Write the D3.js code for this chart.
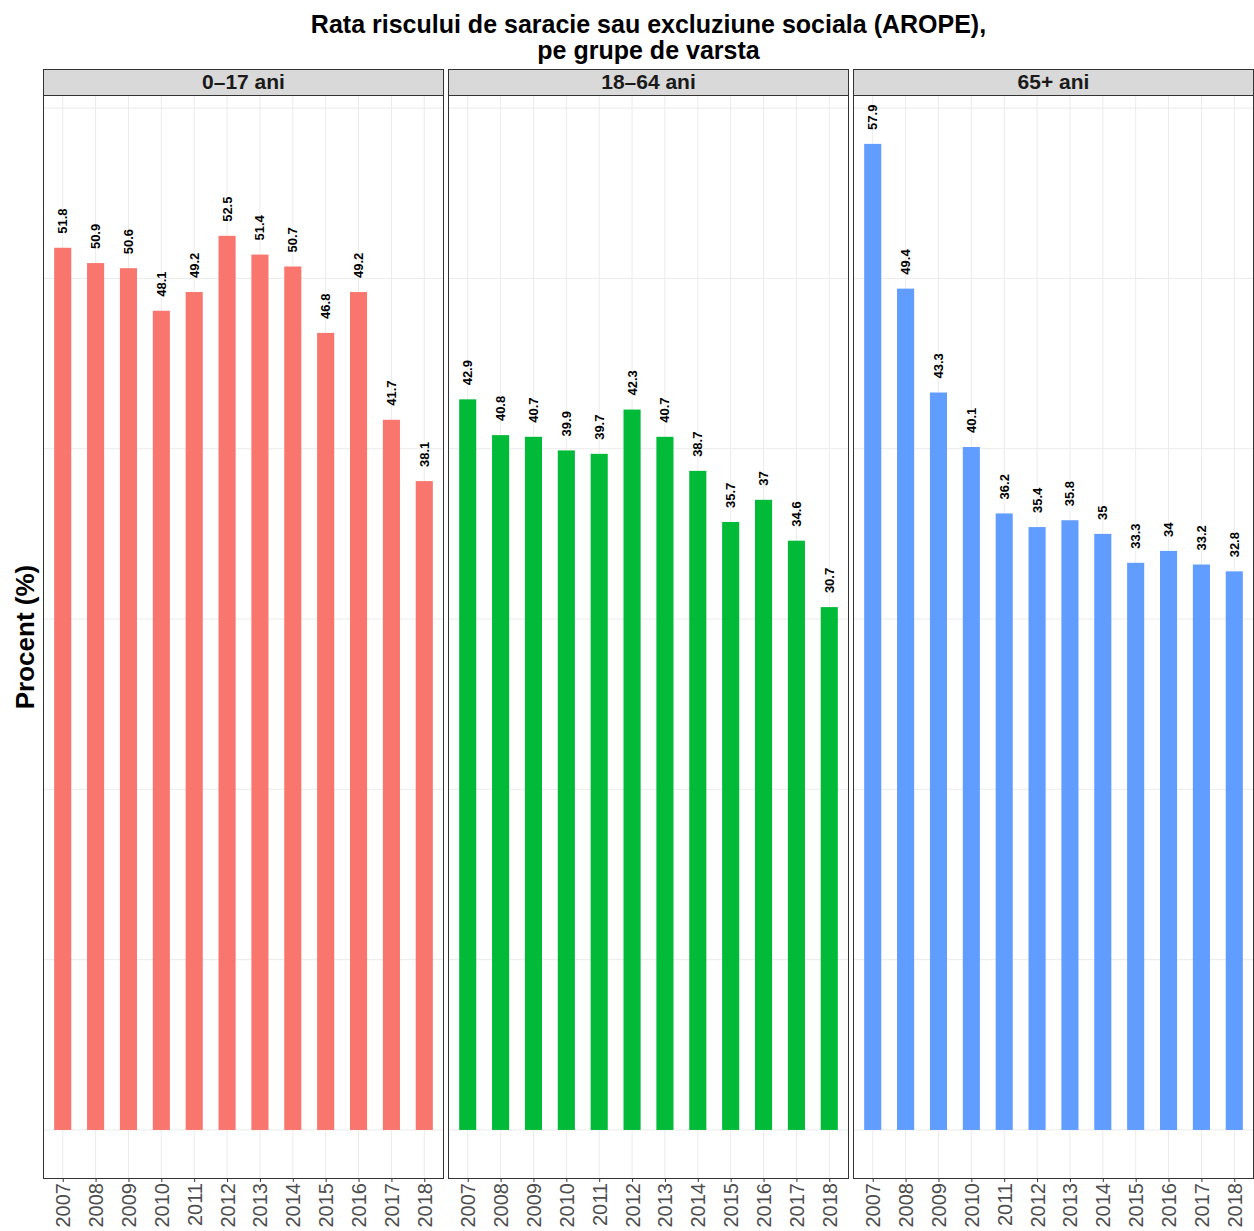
<!DOCTYPE html>
<html>
<head>
<meta charset="utf-8">
<script src="https://cdn.jsdelivr.net/npm/d3@7"></script>
<style>
  body { margin: 0; background: #fff; }
  text { font-family: "Liberation Sans", Arial, Helvetica, sans-serif; }
</style>
</head>
<body>
<script>
// data
const years = ["2007","2008","2009","2010","2011","2012","2013","2014","2015","2016","2017","2018"];
const groups = ["0\u201317 ani", "18\u201364 ani", "65+ ani"];
const groupColors = ["#F8766D", "#00BA38", "#619CFF"];
const vals0_17  = [51.8, 50.9, 50.6, 48.1, 49.2, 52.5, 51.4, 50.7, 46.8, 49.2, 41.7, 38.1];
const vals18_64 = [42.9, 40.8, 40.7, 39.9, 39.7, 42.3, 40.7, 38.7, 35.7, 37, 34.6, 30.7];
const vals65    = [57.9, 49.4, 43.3, 40.1, 36.2, 35.4, 35.8, 35, 33.3, 34, 33.2, 32.8];
const yBreaks = [0, 10, 20, 30, 40, 50, 60];

const seriesVals = [vals0_17, vals18_64, vals65];

const WIDTH = 1254, HEIGHT = 1231;
const panelW = 401, gap = 4;
const panelLeft = 43;
const stripTop = 69, stripH = 26;
const panelTop = stripTop + stripH, panelBottom = 1179;

const svg = d3.select("body").append("svg")
    .attr("width", WIDTH)
    .attr("height", HEIGHT);

svg.append("rect").attr("width", WIDTH).attr("height", HEIGHT).attr("fill", "#fff");

// title
const title = svg.append("text")
    .attr("x", (panelLeft + WIDTH) / 2)
    .attr("y", 33)
    .attr("text-anchor", "middle")
    .attr("font-size", 25)
    .attr("font-weight", "bold")
    .attr("fill", "#000");
title.append("tspan").attr("x", (panelLeft + WIDTH) / 2).text("Rata riscului de saracie sau excluziune sociala (AROPE),");
title.append("tspan").attr("x", (panelLeft + WIDTH) / 2).attr("dy", 26).text("pe grupe de varsta");

// y axis title
svg.append("text")
    .attr("transform", "translate(34," + ((panelTop + panelBottom) / 2) + ") rotate(-90)")
    .attr("text-anchor", "middle")
    .attr("font-size", 26)
    .attr("font-weight", "bold")
    .attr("fill", "#000")
    .text("Procent (%)");

let y = d3.scaleLinear()
    .domain([-2.88, 60.77])
    .range([panelBottom, panelTop]);

groups.forEach((g, gi) => {
    const x0 = panelLeft + gi * (panelW + gap);
    const panel = svg.append("g").attr("transform", "translate(" + x0 + ",0)");

    let x = d3.scalePoint()
        .domain(years)
        .range([0, panelW])
        .padding(0.6);
    const barW = x.step() * 0.52;

    const data = years.map((yr, i) => ({year: yr, value: seriesVals[gi][i]}));

    // grid
    panel.selectAll(".hgrid").data(yBreaks).enter().append("line")
        .attr("x1", 0).attr("x2", panelW)
        .attr("y1", d => y(d)).attr("y2", d => y(d))
        .attr("stroke", "#ebebeb").attr("stroke-width", 1);
    panel.selectAll(".vgrid").data(years).enter().append("line")
        .attr("x1", d => x(d)).attr("x2", d => x(d))
        .attr("y1", panelTop).attr("y2", panelBottom)
        .attr("stroke", "#ebebeb").attr("stroke-width", 1);

    // bars
    panel.selectAll(".bar").data(data).enter().append("rect")
        .attr("x", d => x(d.year) - barW / 2)
        .attr("width", barW)
        .attr("y", d => y(d.value))
        .attr("height", d => y(0) - y(d.value))
        .attr("fill", groupColors[gi]);

    // value labels
    panel.selectAll(".lbl").data(data).enter().append("text")
        .attr("transform", d => "translate(" + x(d.year) + "," + (y(d.value) - 14) + ") rotate(-90)")
        .attr("dy", "0.35em")
        .attr("font-size", 13)
        .attr("font-weight", "bold")
        .attr("fill", "#000")
        .text(d => d.value);

    // border
    panel.append("rect")
        .attr("x", 0.5).attr("y", panelTop + 0.5)
        .attr("width", panelW - 1).attr("height", panelBottom - panelTop - 1)
        .attr("fill", "none").attr("stroke", "#333").attr("stroke-width", 1);

    // strip
    panel.append("rect")
        .attr("x", 0.5).attr("y", stripTop + 0.5)
        .attr("width", panelW - 1).attr("height", stripH)
        .attr("fill", "#d9d9d9").attr("stroke", "#333").attr("stroke-width", 1);
    panel.append("text")
        .attr("x", panelW / 2).attr("y", stripTop + stripH / 2)
        .attr("dy", "0.35em")
        .attr("text-anchor", "middle")
        .attr("font-size", 21)
        .attr("font-weight", "bold")
        .attr("fill", "#1a1a1a")
        .text(g);

    // x axis
    const xAxis = panel.append("g")
        .attr("transform", "translate(0," + panelBottom + ")")
        .call(d3.axisBottom(x).tickSize(3).tickPadding(4));
    xAxis.select(".domain").remove();
    xAxis.selectAll(".tick line").attr("stroke", "#333");
    xAxis.selectAll(".tick text")
        .attr("transform", "rotate(-90)")
        .attr("text-anchor", "end")
        .attr("x", -4)
        .attr("y", 0)
        .attr("dy", "0.35em")
        .attr("font-size", 20)
        .attr("font-family", "Liberation Sans, Arial, sans-serif")
        .attr("fill", "#4d4d4d");
});
</script>
</body>
</html>
